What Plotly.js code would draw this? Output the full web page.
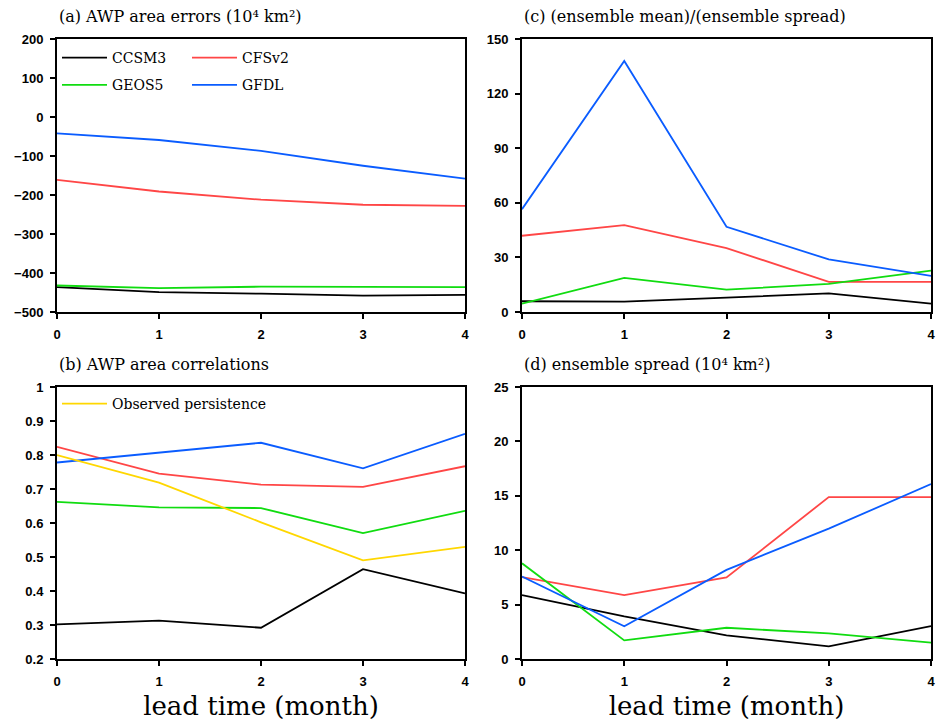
<!DOCTYPE html>
<html>
<head>
<meta charset="utf-8">
<script src="https://cdn.plot.ly/plotly-3.0.1.min.js"></script>
<style>html,body{margin:0;padding:0;background:#fff;}#chart{width:937px;height:727px;}</style>
</head>
<body>
<div id="chart"></div>
<script>
// ---- data ----
const leadTimes = [0, 1, 2, 3, 4];
const modelNames = ['CCSM3', 'CFSv2', 'GEOS5', 'GFDL'];
const obsName = 'Observed persistence';

// (a) AWP area errors (10^4 km^2)
const errCCSM3 = [-436, -449, -453, -458, -456];
const errCFSv2 = [-161, -191, -212, -225, -228];
const errGEOS5 = [-432, -439, -435, -435, -436];
const errGFDL  = [-42, -59, -87, -125, -158];

// (b) AWP area correlations
const corCCSM3 = [0.302, 0.313, 0.292, 0.464, 0.393];
const corCFSv2 = [0.824, 0.745, 0.713, 0.706, 0.767];
const corGEOS5 = [0.662, 0.646, 0.644, 0.570, 0.636];
const corGFDL  = [0.778, 0.806, 0.836, 0.761, 0.862];
const corObs   = [0.800, 0.719, 0.602, 0.490, 0.530];

// (c) (ensemble mean)/(ensemble spread)
const ratCCSM3 = [5.9, 5.7, 7.9, 10.2, 4.6];
const ratCFSv2 = [41.9, 47.7, 35.1, 16.6, 16.5];
const ratGEOS5 = [4.6, 18.7, 12.3, 15.4, 22.7];
const ratGFDL  = [56.5, 137.9, 46.8, 28.9, 19.8];

// (d) ensemble spread (10^4 km^2)
const sprCCSM3 = [5.87, 3.91, 2.17, 1.16, 3.03];
const sprCFSv2 = [7.52, 5.87, 7.49, 14.88, 14.88];
const sprGEOS5 = [8.80, 1.71, 2.87, 2.35, 1.50];
const sprGFDL  = [7.58, 3.00, 8.19, 11.98, 16.08];

const xTickLabels = ['0', '1', '2', '3', '4'];
const panelTitles = [
  '(a) AWP area errors (10\u2074 km\u00b2)',
  '(b) AWP area correlations',
  '(c) (ensemble mean)/(ensemble spread)',
  '(d) ensemble spread (10\u2074 km\u00b2)'
];
const xTitle = 'lead time (month)';

// ---- styling ----
const colors = {CCSM3: '#000000', CFSv2: '#ff4646', GEOS5: '#10dc10', GFDL: '#0a5cff', obs: '#ffd700'};
const LW = 1.8;
const W = 937, H = 727;
const px = v => v / W;
const py = v => 1 - v / H;

const panelData = {
  a: [errCCSM3, errCFSv2, errGEOS5, errGFDL],
  b: [corCCSM3, corCFSv2, corGEOS5, corGFDL],
  c: [ratCCSM3, ratCFSv2, ratGEOS5, ratGFDL],
  d: [sprCCSM3, sprCFSv2, sprGEOS5, sprGFDL]
};
const axisMap = {a: ['x', 'y'], b: ['x2', 'y2'], c: ['x3', 'y3'], d: ['x4', 'y4']};
const legendFor = {CCSM3: 'legend', GEOS5: 'legend', CFSv2: 'legend3', GFDL: 'legend3'};

const traces = [];
['a', 'b', 'c', 'd'].forEach(p => {
  panelData[p].forEach((ys, i) => {
    const name = modelNames[i];
    traces.push({
      x: leadTimes, y: ys, name: name, type: 'scatter', mode: 'lines',
      xaxis: axisMap[p][0], yaxis: axisMap[p][1],
      line: {color: colors[name], width: LW},
      showlegend: p === 'a',
      legend: legendFor[name],
      legendgroup: name,
      hoverinfo: 'skip'
    });
  });
});
traces.push({
  x: leadTimes, y: corObs, name: obsName, type: 'scatter', mode: 'lines',
  xaxis: 'x2', yaxis: 'y2', line: {color: colors.obs, width: LW},
  showlegend: true, legend: 'legend2', hoverinfo: 'skip'
});

const tickFont = {family: 'Liberation Sans, Arial, sans-serif', size: 13, color: '#000', weight: 700};
const serif = 'DejaVu Serif, serif';

function xax(domain, anchor, withTitle) {
  const o = {
    domain: domain, anchor: anchor, range: [0, 4], tickvals: leadTimes, ticktext: xTickLabels,
    ticks: 'outside', ticklen: 5, tickwidth: 2, tickcolor: '#000',
    showline: true, linewidth: 2, linecolor: '#000', mirror: true,
    showgrid: false, zeroline: false, tickfont: tickFont, ticklabelstandoff: 4
  };
  if (withTitle) {
    o.title = {text: xTitle, font: {family: serif, size: 26, color: '#000'}, standoff: 9};
  }
  return o;
}
function yax(domain, anchor, range, dtick) {
  return {
    domain: domain, anchor: anchor, range: range, tick0: range[0], dtick: dtick,
    ticks: 'outside', ticklen: 5, tickwidth: 2, tickcolor: '#000',
    showline: true, linewidth: 2, linecolor: '#000', mirror: true,
    showgrid: false, zeroline: false, tickfont: tickFont, ticklabelstandoff: 4
  };
}

const xL = [px(57), px(465)], xR = [px(522), px(931)];
const yT = [py(312), py(39)], yB = [py(659), py(387)];

const titleFont = {family: serif, size: 16, color: '#000'};
const ann = [
  [panelTitles[0], 57, 16], [panelTitles[1], 57, 364],
  [panelTitles[2], 522, 16], [panelTitles[3], 522, 364]
].map(t => ({
  text: t[0], xref: 'paper', yref: 'paper', x: px(t[1]), y: py(t[2]),
  xanchor: 'left', yanchor: 'middle', showarrow: false, font: titleFont
}));

const legFont = {family: serif, size: 14, color: '#000'};
const legBase = {
  orientation: 'v', xanchor: 'left', yanchor: 'top', bgcolor: 'rgba(0,0,0,0)',
  borderwidth: 0, font: legFont, tracegroupgap: 6, itemwidth: 45, itemclick: false, itemdoubleclick: false
};

const layout = {
  width: W, height: H,
  margin: {l: 0, r: 0, t: 0, b: 0},
  paper_bgcolor: '#fff', plot_bgcolor: '#fff',
  xaxis: xax(xL, 'y', false),
  yaxis: yax(yT, 'x', [-500, 200], 100),
  xaxis2: xax(xL, 'y2', true),
  yaxis2: yax(yB, 'x2', [0.2, 1], 0.1),
  xaxis3: xax(xR, 'y3', false),
  yaxis3: yax(yT, 'x3', [0, 150], 30),
  xaxis4: xax(xR, 'y4', true),
  yaxis4: yax(yB, 'x4', [0, 25], 5),
  annotations: ann,
  legend: Object.assign({}, legBase, {x: px(57), y: py(42)}),
  legend3: Object.assign({}, legBase, {x: px(187), y: py(42)}),
  legend2: Object.assign({}, legBase, {x: px(57), y: py(388)}),
  showlegend: true
};

Plotly.newPlot('chart', traces, layout, {staticPlot: true, displayModeBar: false});
</script>
</body>
</html>
